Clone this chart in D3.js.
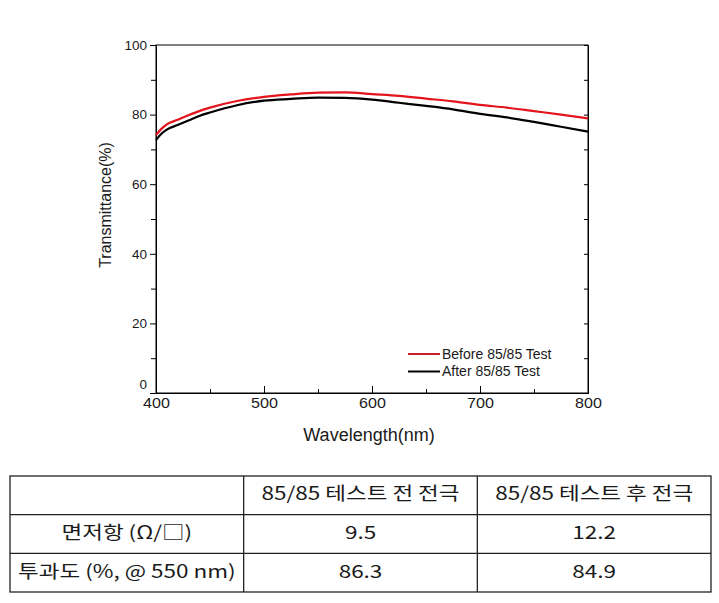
<!DOCTYPE html>
<html>
<head>
<meta charset="utf-8">
<script src="https://cdn.jsdelivr.net/npm/d3@7"></script>
<style>
  body { margin: 0; background: #fff; }
  text { fill: #1a1a1a; }
</style>
</head>
<body>
<div id="chart"></div>
<script>
// spectrum (nm, %)
const wavelength = [400, 405, 410, 420, 430, 440, 450, 475, 500, 525, 550, 575, 600, 625, 650, 675, 700, 725, 750, 775, 800];
const beforeTest = [74.1, 75.9, 77.2, 78.5, 79.8, 81.0, 82.0, 83.9, 85.1, 85.8, 86.3, 86.4, 85.9, 85.4, 84.6, 83.8, 82.8, 82.0, 81.0, 80.0, 78.9];
const afterTest  = [72.7, 74.5, 75.7, 77.0, 78.3, 79.6, 80.6, 82.7, 84.0, 84.5, 84.9, 84.8, 84.3, 83.4, 82.5, 81.5, 80.2, 79.2, 77.9, 76.5, 75.1];

const seriesNames = ["Before 85/85 Test", "After 85/85 Test"];
const seriesColors = ["#e3141c", "#000000"];

const xTicks = [400, 500, 600, 700, 800];
const yTicks = [0, 20, 40, 60, 80, 100];

// table under the chart
const tableHeader = ["", "85/85 테스트 전 전극", "85/85 테스트 후 전극"];
const rowLabels = ["면저항 (Ω/□)", "투과도 (%, @ 550 nm)"];
const beforeValues = ["9.5", "86.3"];
const afterValues = ["12.2", "84.9"];

const width = 719, height = 603;
const svg = d3.select("#chart").append("svg")
    .attr("width", width)
    .attr("height", height);

const latin = "'Liberation Sans', Arial, sans-serif";
const korean = "'Noto Sans CJK KR', 'Noto Sans', sans-serif";

// plot box
const plot = { left: 156, right: 588, top: 45, bottom: 393 };

const x = d3.scaleLinear().domain([400, 800]).range([plot.left, plot.right]);
const y = d3.scaleLinear().domain([0, 100]).range([plot.bottom, plot.top]);

// frame
svg.append("rect")
    .attr("x", plot.left).attr("y", plot.top)
    .attr("width", plot.right - plot.left)
    .attr("height", plot.bottom - plot.top)
    .attr("fill", "none").attr("stroke", "#000").attr("stroke-width", 1);

// bottom axis, ticks pointing in
const xAxis = svg.append("g")
    .attr("transform", `translate(0,${plot.bottom})`)
    .call(d3.axisBottom(x).tickValues(xTicks).tickSizeInner(-7).tickSizeOuter(0).tickPadding(5));
svg.append("g")
    .attr("transform", `translate(0,${plot.bottom})`)
    .call(d3.axisBottom(x).tickValues([450, 550, 650, 750]).tickSize(-4).tickFormat(""));

// left axis, ticks pointing out
const yAxis = svg.append("g")
    .attr("transform", `translate(${plot.left},0)`)
    .call(d3.axisLeft(y).tickValues(yTicks).tickSizeInner(6).tickSizeOuter(0).tickPadding(3));
svg.append("g")
    .attr("transform", `translate(${plot.left},0)`)
    .call(d3.axisLeft(y).tickValues([10, 30, 50, 70, 90]).tickSize(5).tickFormat(""));

// right side ticks inside
svg.append("g")
    .attr("transform", `translate(${plot.right},0)`)
    .call(d3.axisRight(y).tickValues(d3.range(0, 101, 10)).tickSize(-4).tickFormat(""));

svg.selectAll(".domain").attr("stroke", "#000");
svg.selectAll(".tick line").attr("stroke", "#000");

// the source labels are a bit wide, stretch them
xAxis.selectAll("text")
    .attr("font-family", latin).attr("font-size", 14).attr("fill", "#1a1a1a")
    .attr("transform", "scale(1.15,1)");
yAxis.selectAll("text")
    .attr("font-family", latin).attr("font-size", 13.5).attr("fill", "#1a1a1a");
// "0" sits a little above its tick, like in the source
yAxis.selectAll(".tick").filter(d => d === 0).select("text").attr("dy", "-0.3em");

// titles
svg.append("text")
    .attr("x", (plot.left + plot.right) / 2 - 3)
    .attr("y", 441)
    .attr("text-anchor", "middle")
    .attr("font-family", latin)
    .attr("font-size", 18)
    .text("Wavelength(nm)");

svg.append("text")
    .attr("transform", `translate(111,205) rotate(-90)`)
    .attr("text-anchor", "middle")
    .attr("font-family", latin)
    .attr("font-size", 16)
    .text("Transmittance(%)");

// curves
const line = d3.line()
    .x((d, i) => x(wavelength[i]))
    .y(d => y(d))
    .curve(d3.curveMonotoneX);

[beforeTest, afterTest].forEach((vals, k) => {
    svg.append("path")
        .datum(vals)
        .attr("d", line)
        .attr("fill", "none")
        .attr("stroke", seriesColors[k])
        .attr("stroke-width", 2.2);
});

// legend
const legend = svg.append("g").attr("transform", "translate(408,354)");
seriesNames.forEach((name, k) => {
    const row = legend.append("g").attr("transform", `translate(0,${k * 17.5})`);
    row.append("line")
        .attr("x1", 0).attr("x2", 32)
        .attr("stroke", seriesColors[k] === "#000000" ? "#000" : "#c8202a")
        .attr("stroke-width", 2);
    row.append("text")
        .attr("x", 34).attr("y", 4.5)
        .attr("font-family", latin)
        .attr("font-size", 14)
        .text(name);
});

// table
const cols = d3.scaleBand().domain([0, 1, 2]).range([10, 711]);
const rows = d3.scaleBand().domain([0, 1, 2]).range([476, 592]);

const cells = [tableHeader];
rowLabels.forEach((lab, i) => cells.push([lab, beforeValues[i], afterValues[i]]));

const table = svg.append("g");
table.append("rect")
    .attr("x", cols.range()[0]).attr("y", rows.range()[0])
    .attr("width", cols.range()[1] - cols.range()[0])
    .attr("height", rows.range()[1] - rows.range()[0])
    .attr("fill", "none").attr("stroke", "#222").attr("stroke-width", 1.3);

[1, 2].forEach(c => {
    table.append("line")
        .attr("x1", cols(c)).attr("x2", cols(c))
        .attr("y1", rows.range()[0]).attr("y2", rows.range()[1])
        .attr("stroke", "#222").attr("stroke-width", 1.3);
});
[1, 2].forEach(r => {
    table.append("line")
        .attr("x1", cols.range()[0]).attr("x2", cols.range()[1])
        .attr("y1", rows(r)).attr("y2", rows(r))
        .attr("stroke", "#222").attr("stroke-width", 1.3);
});

cells.forEach((row, r) => {
    row.forEach((txt, c) => {
        if (!txt) return;
        const cx = cols(c) + cols.bandwidth() / 2;
        const cy = rows(r) + rows.bandwidth() / 2 + 5;
        table.append("text")
            .attr("transform", `translate(${cx},${cy}) scale(1.25,1)`)
            .attr("text-anchor", "middle")
            .attr("font-family", korean)
            .attr("font-size", 18)
            .text(txt);
    });
});
</script>
</body>
</html>
